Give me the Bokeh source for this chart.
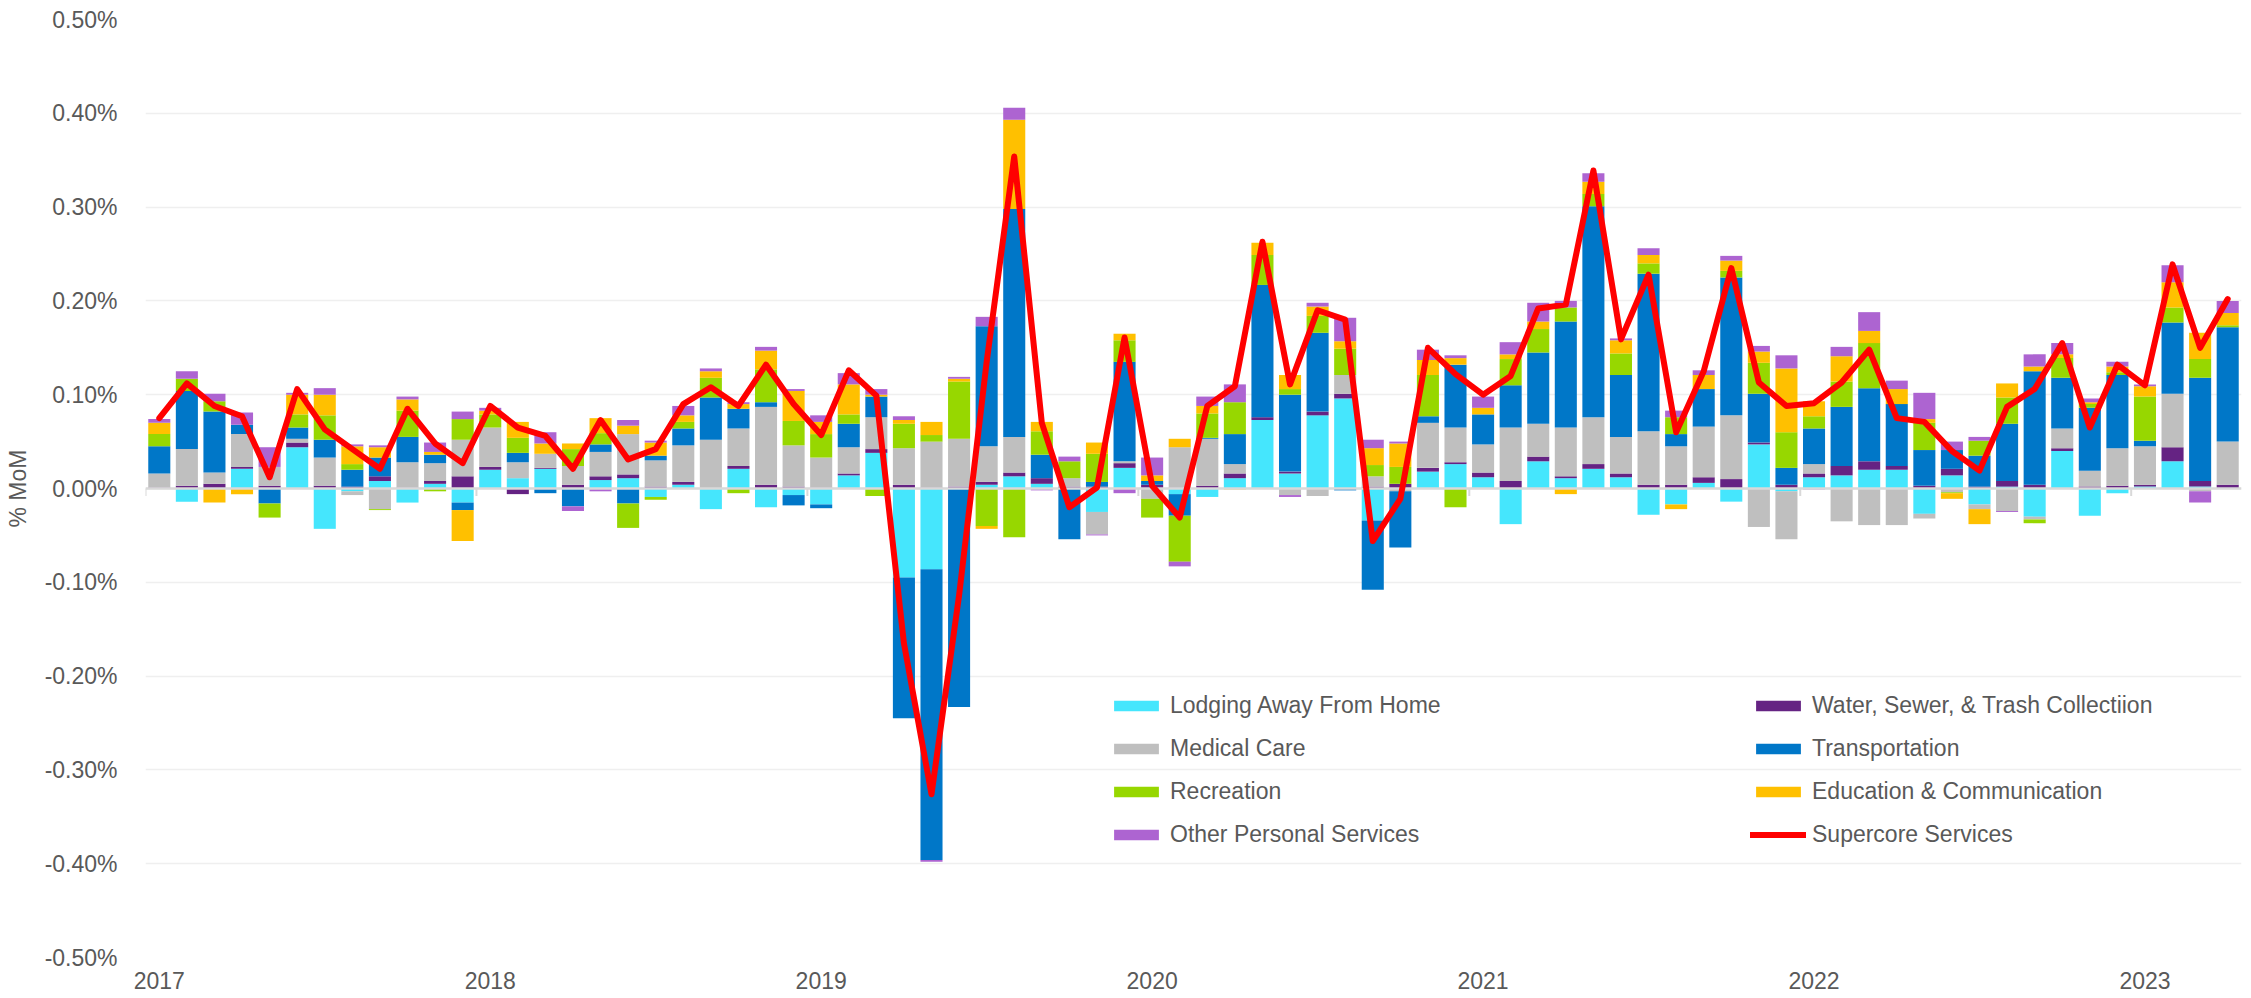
from bokeh.plotting import figure
from bokeh.models import (ColumnDataSource, Legend, LegendItem, FixedTicker,
                          PrintfTickFormatter, Range1d)
from bokeh.embed import file_html
from bokeh.resources import INLINE

# ---------------- data (% MoM contributions) ----------------
years = ["2017", "2018", "2019", "2020", "2021", "2022", "2023"]
n_months = 76

lodging = [0, -.014, 0, .021, 0, .044, -.043, -.003, .008, -.015, .005, -.015,
           .020, .011, .021, 0, .009, .011, -.009, .004, -.022, .021, -.020, -.007,
           -.017, .014, .038, -.095, -.086, 0, .004, .013, .005, 0, -.025, .022,
           0, -.006, -.009, .011, .073, .016, .078, .096, -.034, 0, .018, .026,
           .012, -.038, .029, .011, .021, .012, -.028, -.017, .006, -.014, .047, -.003,
           .012, .014, .020, .020, -.027, .014, -.017, .002, -.030, .040, -.029, -.005,
           .002, .029, .002, 0]
water = [.001, .003, .005, .002, .003, .005, .003, .002, .005, .001, .003, .013,
         .003, -.006, .001, .004, .004, .004, .002, .003, 0, .003, .004, .002,
         .001, .002, .004, .004, .001, .002, .003, .004, .006, .002, .002, .005,
         .004, .001, .003, .005, .003, .002, .004, .005, .002, .005, .004, .002,
         .005, .008, .005, .002, .005, .004, .004, .004, .006, .010, .002, .004,
         .004, .010, .009, .004, .003, .007, .002, .006, .004, .003, .002, .003,
         .002, .015, .006, .004]
medical = [.015, .039, .012, .035, .020, .004, .030, -.004, -.022, .027, .019, .039,
           .042, .017, .015, .020, .026, .043, .028, .039, .052, .040, .083, .044,
           .032, .028, .034, .039, .049, .051, .038, .038, 0, .009, -.024, .002,
           -.011, .043, .050, .010, 0, -.007, -.008, .020, .011, -.003, .048, .037,
           .030, .057, .035, .052, .050, .039, .057, .041, .054, .068, -.041, -.051,
           .010, -.035, -.039, -.039, -.005, -.004, -.005, -.024, -.003, .021, .017, .040,
           .041, .057, -.003, .046]
transportation = [.029, .062, .065, .010, -.016, .012, .019, .018, .020, .027, .009, -.008,
                  0, .010, -.005, -.019, .008, -.016, .005, .018, .045, .021, .005, -.011,
                  -.004, .025, .022, -.150, -.310, -.233, .128, .243, .025, -.054, .005, .106,
                  .004, -.023, .001, .032, .141, .082, .084, -.002, -.074, -.060, .007, .067,
                  .032, .045, .076, .113, .225, .066, .168, .013, .040, .147, .052, .018,
                  .038, .063, .078, .066, .038, .020, .033, .061, .121, .054, .067, .078,
                  .006, .076, .110, .122]
recreation = [.013, .013, .011, 0, -.015, .014, .026, .006, -.001, .028, -.003, .022,
              .014, .016, 0, .018, .012, -.026, -.003, .007, .021, -.005, .035, .026,
              .025, .010, -.008, .026, .007, .061, -.040, -.052, .025, .018, .030, .023,
              -.020, -.049, .026, .034, .032, .006, .018, .028, .012, .018, .044, -.020,
              0, .028, .025, .015, .013, .023, .011, .018, 0, .007, .033, .038,
              .013, .027, .048, 0, .029, -.001, .016, .028, -.004, .021, .004, .003,
              .047, .016, .020, .002]
education = [.012, 0, -.015, -.006, 0, .021, .022, .019, .011, .012, .003, -.033,
             .004, .017, .011, .006, .016, .009, .014, .007, .007, .005, .020, .032,
             .013, .032, .002, .004, .014, .003, -.003, .095, .010, 0, .012, .007,
             .006, .009, .008, -.001, .013, .015, .010, .008, .018, .025, .016, .007,
             .007, .005, .008, -.006, .013, .014, .009, -.005, .015, .011, .012, .068,
             .016, .027, .013, .016, .004, -.006, -.016, .015, .005, .004, .002, .006,
             .011, .027, .028, .013]
other = [.004, .008, .008, .013, .021, .002, .007, .002, .002, .003, .010, .008,
         .003, 0, .012, -.005, -.003, .006, .002, .010, .003, .002, .004, .002,
         .007, .012, .006, .004, -.002, .002, .010, .013, -.002, .005, -.001, -.005,
         .019, -.005, .010, .019, 0, -.002, .004, .025, .009, .002, .011, .003,
         .012, .013, .020, .007, .009, .002, .007, .007, .005, .005, .006, .014,
         -.001, .010, .020, .009, .028, .009, .004, -.001, .013, .012, .004, .005,
         .002, .018, -.012, .013]
supercore = [.075, .112, .088, .077, .012, .106, .063, .042, .021, .085, .048, .027,
             .088, .065, .056, .021, .073, .031, .042, .090, .108, .088, .132, .090,
             .057, .126, .099, -.165, -.326, -.114, .135, .354, .070, -.020, .001, .161,
             .003, -.031, .088, .109, .263, .111, .190, .180, -.056, -.011, .150, .122,
             .100, .120, .192, .196, .339, .159, .228, .060, .125, .235, .113, .088,
             .091, .113, .148, .075, .071, .040, .019, .087, .106, .155, .065, .132,
             .110, .239, .150, .202]

series_names = ["Lodging Away From Home", "Water, Sewer, & Trash Collectiion",
                "Medical Care", "Transportation", "Recreation",
                "Education & Communication", "Other Personal Services"]
series_vals = [lodging, water, medical, transportation, recreation, education, other]
series_colors = ["#45E6FD", "#652383", "#BFBFBF", "#0077C8", "#97D700",
                 "#FFC000", "#AD64D1"]

months = list(range(n_months))

# ---------------- figure ----------------
FONT = "Liberation Sans"
TXT = "#595959"
FS = "23px"

p = figure(frame_width=2096, frame_height=938, output_backend="svg",
           toolbar_location=None,
           x_range=Range1d(-0.5, n_months - 0.5), y_range=Range1d(-0.5, 0.5),
           min_border_left=145, min_border_right=4, min_border_top=19,
           min_border_bottom=39)
p.outline_line_color = None
p.background_fill_color = "white"

# stacked bars: positives stack up, negatives stack down (Excel style)
pos_base = [0.0] * n_months
neg_base = [0.0] * n_months
renderers = {}
for name, vals, col in zip(series_names, series_vals, series_colors):
    bottoms, tops = [], []
    for i, v in enumerate(vals):
        if v >= 0:
            bottoms.append(pos_base[i]); tops.append(pos_base[i] + v)
            pos_base[i] += v
        else:
            bottoms.append(neg_base[i]); tops.append(neg_base[i] + v)
            neg_base[i] += v
    src = ColumnDataSource(dict(x=months, bottom=bottoms, top=tops))
    r = p.vbar(x="x", bottom="bottom", top="top", width=0.8, source=src,
               fill_color=col, line_color=None)
    renderers[name] = r

# zero axis line and category ticks on it
p.hspan(y=[0], line_color="#D9D9D9", line_width=2.5)
tick_x = [12 * k - 0.5 for k in range(len(years))]
p.segment(x0=tick_x, y0=[0] * len(tick_x), x1=tick_x, y1=[-0.008] * len(tick_x),
          line_color="#D9D9D9", line_width=2)

line_r = p.line(months, supercore, line_color="#FF0000", line_width=6,
                line_join="round", line_cap="round")

# axes
p.yaxis.ticker = FixedTicker(ticks=[-0.5, -0.4, -0.3, -0.2, -0.1, 0, 0.1, 0.2, 0.3, 0.4, 0.5])
p.yaxis.formatter = PrintfTickFormatter(format="%.2f%%")
p.yaxis.axis_line_color = None
p.yaxis.major_tick_line_color = None
p.yaxis.minor_tick_line_color = None
p.yaxis.major_label_text_font = FONT
p.yaxis.major_label_text_font_size = FS
p.yaxis.major_label_text_color = TXT
p.yaxis.major_label_standoff = 22
p.yaxis.axis_label = "% MoM"
p.yaxis.axis_label_text_font = FONT
p.yaxis.axis_label_text_font_size = FS
p.yaxis.axis_label_text_font_style = "normal"
p.yaxis.axis_label_text_color = TXT
p.yaxis.axis_label_standoff = 11

year_ticks = [12 * k for k in range(len(years))]
p.xaxis.ticker = FixedTicker(ticks=year_ticks)
p.xaxis.major_label_overrides = {t: y for t, y in zip(year_ticks, years)}
p.xaxis.axis_line_color = None
p.xaxis.major_tick_line_color = None
p.xaxis.minor_tick_line_color = None
p.xaxis.major_label_text_font = FONT
p.xaxis.major_label_text_font_size = FS
p.xaxis.major_label_text_color = TXT
p.xaxis.major_label_standoff = 8

p.xgrid.grid_line_color = None
p.ygrid.ticker = p.yaxis.ticker
p.ygrid.grid_line_color = "#EFEFEF"
p.ygrid.grid_line_width = 1.5

# legends: two columns
col1 = [series_names[0], series_names[2], series_names[4], series_names[6]]
col2 = [series_names[1], series_names[3], series_names[5]]
items1 = [LegendItem(label=n, renderers=[renderers[n]]) for n in col1]
items2 = [LegendItem(label=n, renderers=[renderers[n]]) for n in col2]
items2.append(LegendItem(label="Supercore Services", renderers=[line_r]))

for items, loc in [(items1, (963, 108)), (items2, (1605, 108))]:
    leg = Legend(items=items, location=loc, orientation="vertical")
    leg.border_line_color = None
    leg.background_fill_alpha = 0
    leg.padding = 0
    leg.margin = 0
    leg.spacing = 13
    leg.glyph_width = 56
    leg.glyph_height = 13
    leg.label_height = 30
    leg.label_standoff = 6
    leg.label_text_font = FONT
    leg.label_text_font_size = FS
    leg.label_text_color = TXT
    p.add_layout(leg)

open("out.html", "w").write(file_html(p, INLINE))
